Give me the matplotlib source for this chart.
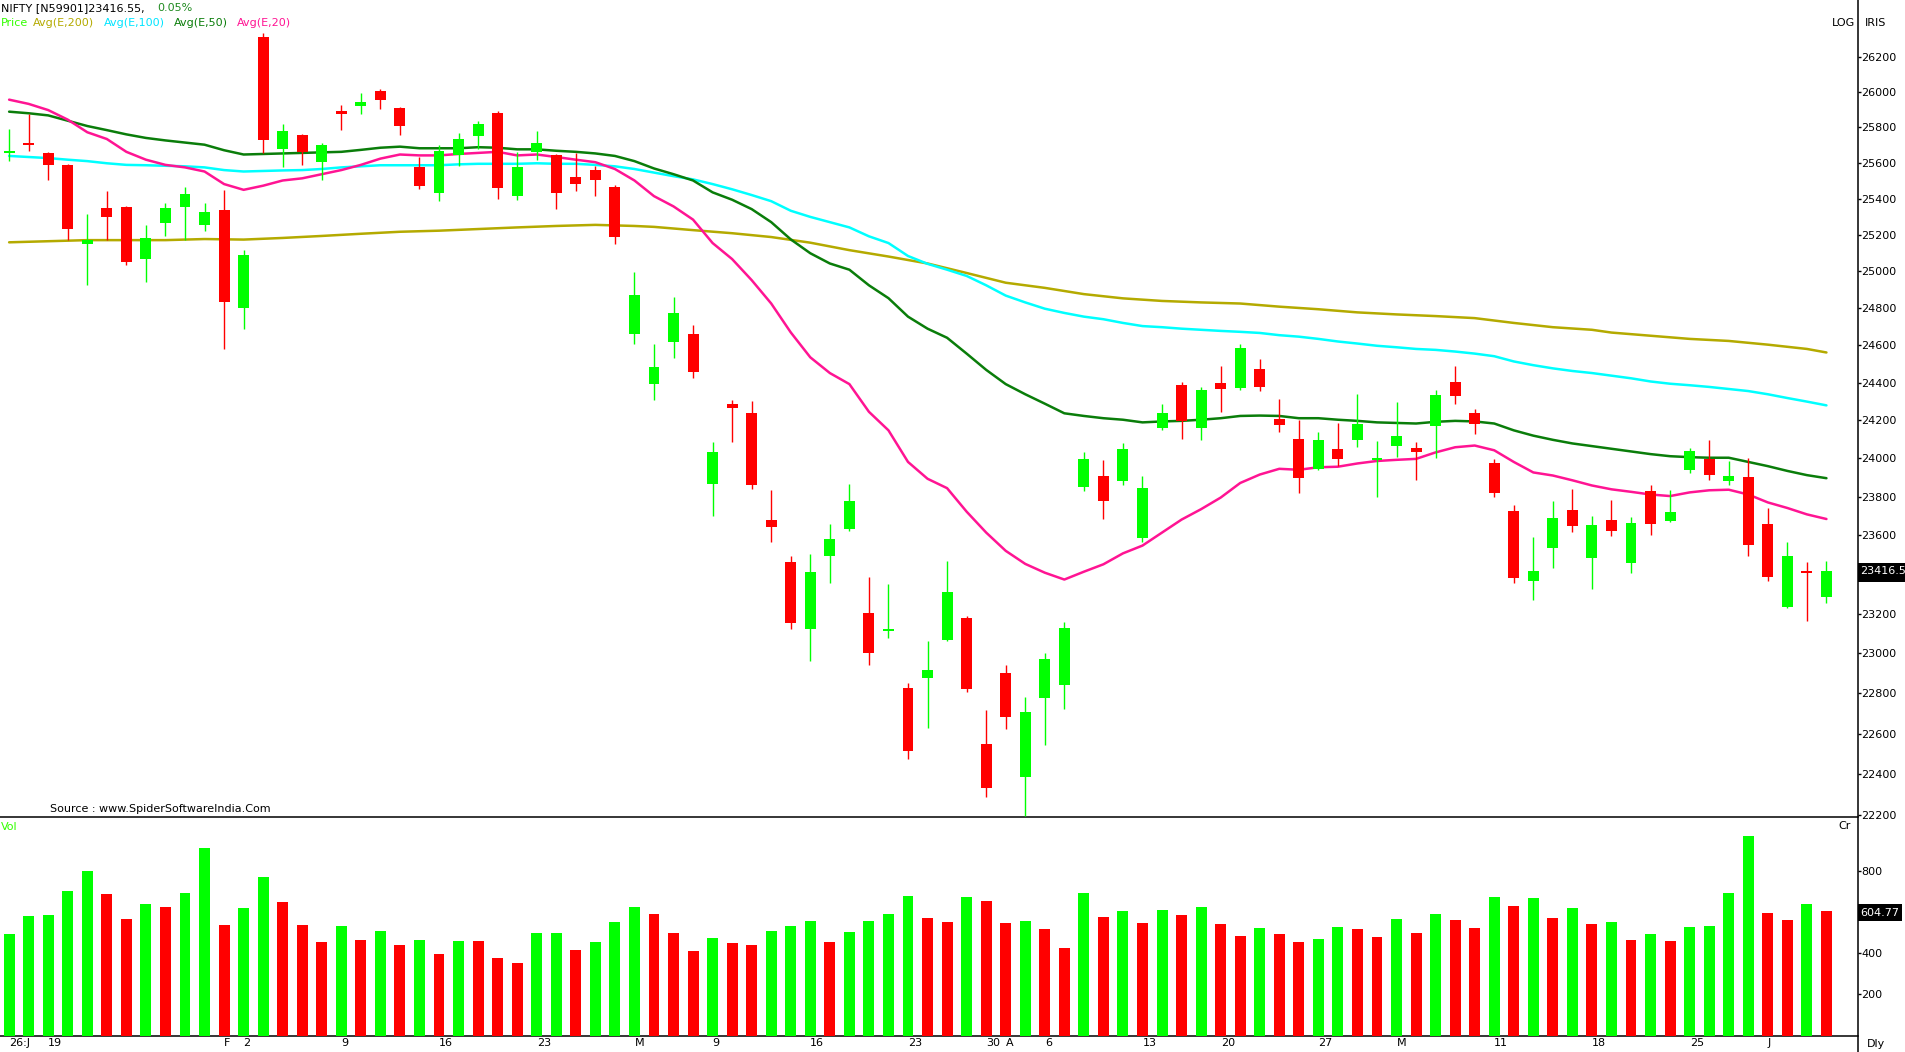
import matplotlib
matplotlib.use("Agg")
import matplotlib.pyplot as plt
from matplotlib.ticker import FixedLocator, NullLocator, FuncFormatter
from matplotlib.patches import Rectangle
from matplotlib.lines import Line2D

# ---------------- data ----------------
opens = [25655, 25702, 25655, 25590, 25150, 25348, 25354, 25070, 25264, 25351,
         25252, 25339, 24803, 26310, 25678, 25757, 25606, 25890, 25919, 26003,
         25910, 25577, 25429, 25646, 25751, 25878, 25412, 25661, 25643, 25522,
         25559, 25464, 24661, 24392, 24617, 24663, 23868, 24285, 24237, 23678,
         23464, 23120, 23493, 23630, 23205, 23112, 22826, 22875, 23064, 23178,
         22549, 22901, 22387, 22777, 22840, 23852, 23910, 23879, 23587, 24161,
         24389, 24161, 24400, 24372, 24473, 24208, 24102, 23945, 24050, 24097,
         23993, 24064, 24056, 24169, 24403, 24237, 23973, 23727, 23365, 23533,
         23732, 23483, 23678, 23456, 23830, 23673, 23937, 23997, 23879, 23904,
         23659, 23232, 23412, 23285]
highs = [25791, 25872, 25660, 25595, 25313, 25443, 25358, 25255, 25377, 25464,
         25377, 25449, 25116, 26337, 25820, 25760, 25710, 25925, 25991, 26015,
         25912, 25632, 25702, 25765, 25832, 25890, 25661, 25777, 25650, 25652,
         25580, 25475, 24994, 24608, 24859, 24709, 24083, 24307, 24301, 23836,
         23496, 23504, 23659, 23866, 23384, 23352, 22852, 23061, 23469, 23190,
         22717, 22940, 22782, 23000, 23157, 24031, 23992, 24078, 23910, 24285,
         24403, 24377, 24487, 24608, 24524, 24313, 24203, 24136, 24186, 24341,
         24089, 24296, 24083, 24361, 24490, 24259, 23997, 23757, 23589, 23778,
         23841, 23700, 23784, 23695, 23860, 23836, 24055, 24097, 23986, 24000,
         23741, 23565, 23464, 23469]
lows = [25612, 25667, 25501, 25174, 24924, 25174, 25035, 24944, 25194, 25174,
        25223, 24580, 24689, 25655, 25574, 25588, 25501, 25783, 25875, 25904,
        25757, 25452, 25386, 25580, 25675, 25397, 25391, 25617, 25342, 25441,
        25412, 25151, 24608, 24310, 24532, 24423, 23700, 24086, 23838, 23565,
        23120, 22960, 23355, 23622, 22939, 23075, 22473, 22626, 23060, 22806,
        22291, 22621, 22195, 22544, 22722, 23830, 23684, 23858, 23565, 24147,
        24102, 24097, 24245, 24361, 24355, 24139, 23817, 23940, 23959, 24061,
        23797, 24008, 23885, 24000, 24285, 24130, 23800, 23355, 23267, 23432,
        23619, 23325, 23595, 23405, 23600, 23670, 23923, 23888, 23860, 23493,
        23365, 23230, 23160, 23253]
closes = [25667, 25698, 25588, 25235, 25172, 25296, 25052, 25183, 25348, 25426,
          25328, 24831, 25090, 25728, 25777, 25661, 25699, 25875, 25940, 25955,
          25806, 25472, 25667, 25731, 25820, 25458, 25577, 25713, 25429, 25484,
          25501, 25186, 24870, 24485, 24771, 24454, 24031, 24265, 23863, 23641,
          23152, 23413, 23581, 23778, 23003, 23118, 22516, 22915, 23312, 22819,
          22334, 22681, 22709, 22971, 23128, 23997, 23776, 24050, 23847, 24237,
          24197, 24361, 24366, 24583, 24377, 24175, 23896, 24094, 23995, 24178,
          23997, 24119, 24033, 24335, 24327, 24178, 23817, 23381, 23419, 23689,
          23646, 23654, 23622, 23665, 23657, 23722, 24036, 23912, 23907, 23551,
          23387, 23491, 23405, 23416.55]
volumes = [494, 581, 586, 703, 800, 688, 567, 640, 625, 693,
           912, 538, 620, 771, 649, 538, 455, 533, 465, 508,
           440, 465, 397, 460, 458, 377, 353, 499, 500, 416,
           455, 552, 625, 591, 499, 411, 474, 450, 440, 508,
           533, 557, 455, 504, 557, 591, 679, 572, 552, 674,
           654, 547, 557, 518, 426, 693, 577, 606, 547, 611,
           586, 625, 543, 484, 523, 494, 455, 470, 528, 518,
           479, 567, 499, 591, 562, 523, 674, 630, 669, 572,
           620, 543, 552, 465, 494, 460, 528, 533, 693, 970,
           596, 562, 640, 604.77]
ema20 = [25955, 25931, 25896, 25842, 25771, 25733, 25661, 25617, 25588, 25574,
         25551, 25481, 25449, 25472, 25501, 25513, 25536, 25559, 25588, 25623,
         25646, 25641, 25641, 25649, 25655, 25661, 25641, 25646, 25632, 25617,
         25603, 25565, 25501, 25414, 25357, 25284, 25155, 25067, 24952, 24825,
         24669, 24535, 24451, 24392, 24245, 24147, 23981, 23893, 23844, 23722,
         23614, 23520, 23453, 23408, 23373, 23413, 23451, 23507, 23547, 23614,
         23681, 23735, 23795, 23871, 23915, 23945, 23940, 23953, 23956, 23973,
         23986, 23992, 23997, 24031, 24058, 24067, 24042, 23981, 23926, 23910,
         23885, 23858, 23838, 23825, 23811, 23803, 23822, 23833, 23836, 23811,
         23770, 23741, 23708, 23684]
ema50 = [25887, 25878, 25866, 25836, 25806, 25783, 25759, 25739, 25725, 25713,
         25701, 25670, 25646, 25649, 25652, 25655, 25658, 25661, 25672, 25684,
         25690, 25681, 25681, 25681, 25687, 25684, 25675, 25675, 25667, 25661,
         25652, 25638, 25609, 25568, 25536, 25501, 25435, 25394, 25342, 25270,
         25175, 25099, 25043, 25009, 24924, 24854, 24754, 24689, 24640, 24555,
         24468, 24392, 24338, 24288, 24237, 24223, 24211, 24203, 24189, 24194,
         24197, 24203, 24211, 24223, 24225, 24223, 24211, 24211, 24203, 24197,
         24189, 24186, 24183, 24192, 24197, 24194, 24183, 24147, 24119, 24097,
         24078, 24064, 24050, 24036, 24022, 24011, 24006, 24003, 24003, 23981,
         23959, 23934, 23912, 23896]
ema100 = [25638, 25632, 25626, 25617, 25609, 25597, 25588, 25586, 25583, 25580,
          25574, 25559, 25551, 25554, 25557, 25559, 25565, 25574, 25580, 25586,
          25586, 25586, 25586, 25591, 25594, 25594, 25594, 25597, 25594, 25594,
          25588, 25580, 25565, 25545, 25525, 25507, 25481, 25452, 25420, 25386,
          25333, 25299, 25270, 25241, 25192, 25155, 25084, 25041, 25009, 24975,
          24924, 24868, 24831, 24797, 24774, 24754, 24740, 24720, 24703, 24697,
          24689, 24683, 24677, 24672, 24666, 24654, 24646, 24634, 24620, 24609,
          24597, 24589, 24580, 24575, 24566, 24555, 24541, 24513, 24493, 24476,
          24462, 24451, 24437, 24423, 24406, 24394, 24386, 24377, 24366, 24355,
          24338, 24318, 24299, 24279]
ema200_idx = [0, 2, 4, 6, 8, 10, 12, 14, 16, 18, 20, 22, 24, 26, 28, 30, 32,
              33, 35, 37, 39, 41, 43, 45, 47, 49, 51, 53, 55, 57, 59, 61, 63, 65,
              67, 69, 71, 73, 75, 77, 79, 81, 82, 84, 86, 88, 90, 92, 93]
ema200 = [25159, 25165, 25171, 25171, 25171, 25177, 25174, 25183, 25194, 25206,
          25217, 25223, 25232, 25241, 25249, 25255, 25249,
          25244, 25226, 25209, 25188, 25157, 25116, 25081, 25043, 24991, 24938,
          24910, 24876, 24853, 24839, 24831, 24825, 24808, 24794, 24777, 24766,
          24757, 24746, 24720, 24697, 24683,
          24668, 24651, 24634, 24623, 24603, 24580, 24561]
date_pos = [0, 2, 11, 12, 17, 22, 27, 32, 36, 41, 46, 50, 51, 53, 58, 62, 67,
            71, 76, 81, 86, 90]
date_labels = ['26:J', '19', 'F', '2', '9', '16', '23', 'M', '9', '16', '23',
               '30', 'A', '6', '13', '20', '27', 'M', '11', '18', '25', 'J']
price_ticks = list(range(22200, 26201, 200))
vol_ticks = [200, 400, 600, 800]
last_close = 23416.55
change_pct = 0.05
last_vol = 604.77

# ---------------- style ----------------
W, H = 1906, 1052
UP = '#00ff00'
DN = '#ff0000'
FS = 8

fig = plt.figure(figsize=(W / 100, H / 100), dpi=100)
fig.patch.set_facecolor('white')

AX_R = 1857.7
Y_SEP = 817.0
Y_BOT = 1035.5
ax = fig.add_axes([0, 1 - Y_SEP / H, AX_R / W, Y_SEP / H])
axv = fig.add_axes([0, 1 - Y_BOT / H, AX_R / W, (Y_BOT - Y_SEP) / H])

n = len(closes)
xs = list(range(n))
xlim = (-0.4667, 94.60)

# price panel
ax.set_yscale('log')
ax.set_ylim(22192, 26526)
ax.set_xlim(*xlim)

ax.plot(ema200_idx, ema200, color='#b4aa00', lw=1.8, zorder=2, solid_capstyle='round')
ax.plot(xs, ema100, color='#00ffff', lw=1.8, zorder=2, solid_capstyle='round')
ax.plot(xs, ema50, color='#0a7d0a', lw=1.8, zorder=2, solid_capstyle='round')
ax.plot(xs, ema20, color='#ff1493', lw=1.8, zorder=2, solid_capstyle='round')

for i in range(n):
    o, h, l, c = opens[i], highs[i], lows[i], closes[i]
    col = UP if c >= o else DN
    ax.vlines(i, l, h, color=col, lw=1.0, zorder=3)
    lo = min(o, c)
    hgt = max(abs(c - o), c * 0.0004)
    ax.bar(i, hgt, bottom=lo, width=0.56, color=col, linewidth=0, zorder=4)


def hidden_fmt(hide_lo, hide_hi):
    # labels sitting under the current-value box are not visible in the reference
    def f(v, p):
        if hide_lo <= v <= hide_hi:
            return ''
        return f'{int(round(v))}'
    return FuncFormatter(f)


for s in ['top', 'left', 'right']:
    ax.spines[s].set_visible(False)
ax.spines['bottom'].set_linewidth(1.1)
ax.spines['bottom'].set_color('black')
ax.set_xticks([])
ax.yaxis.tick_right()
ax.yaxis.set_major_locator(FixedLocator(price_ticks))
ax.yaxis.set_minor_locator(NullLocator())
ax.yaxis.set_major_formatter(hidden_fmt(23350, 23450))
ax.tick_params(axis='y', which='major', direction='out', length=2.2, width=1.0,
               pad=0.6, labelsize=FS, colors='black')

# volume panel
vcols = [UP] + [UP if volumes[i] >= volumes[i - 1] else DN for i in range(1, n)]
axv.bar(xs, volumes, width=0.56, color=vcols, linewidth=0, zorder=3)
axv.set_xlim(*xlim)
axv.set_ylim(0, 1062)
for s in ['top', 'left', 'right']:
    axv.spines[s].set_visible(False)
axv.spines['bottom'].set_linewidth(1.1)
axv.spines['bottom'].set_color('black')
axv.yaxis.tick_right()
axv.yaxis.set_major_locator(FixedLocator(vol_ticks))
axv.yaxis.set_minor_locator(NullLocator())
axv.yaxis.set_major_formatter(hidden_fmt(550, 650))
axv.tick_params(axis='y', which='major', direction='out', length=2.2, width=1.0,
                pad=0.6, labelsize=FS, colors='black')
axv.set_xticks(date_pos)
axv.set_xticklabels(date_labels)
for lab in axv.get_xticklabels():
    lab.set_ha('left')
axv.tick_params(axis='x', length=0, pad=1.8, labelsize=FS, colors='black')
axv.patch.set_alpha(0)
ax.patch.set_alpha(0)

# right axis line across full height
fig.add_artist(Line2D([AX_R / W, AX_R / W], [0, 1], transform=fig.transFigure,
                      color='black', lw=1.1))


def ftext(xp, yp, s, color='black', **kw):
    fig.text(xp / W, 1 - yp / H, s, color=color, fontsize=FS, ha='left',
             va='center', **kw)


ftext(1, 8, f'NIFTY [N59901]{last_close:.2f},')
ftext(157, 8, f'{change_pct:.2f}%', color='#1f8a1f')
ftext(1, 23.5, 'Price', color='#33ff00')
ftext(33, 23.5, 'Avg(E,200)', color='#b4aa00')
ftext(104, 23.5, 'Avg(E,100)', color='#00e5ff')
ftext(174, 23.5, 'Avg(E,50)', color='#0a7d0a')
ftext(237, 23.5, 'Avg(E,20)', color='#ff1493')
ftext(1832, 23.5, 'LOG')
ftext(1865, 23.5, 'IRIS')
ftext(50, 809, 'Source : www.SpiderSoftwareIndia.Com')
ftext(1, 827, 'Vol', color='#33ff00')
ftext(1838, 826, 'Cr')
ftext(1867, 1044, 'Dly')

# current value boxes
fig.add_artist(Rectangle((1858.5 / W, 1 - 581.5 / H), 48 / W, 19 / H,
                         transform=fig.transFigure, facecolor='black',
                         edgecolor='none', zorder=10))
fig.text(1860 / W, 1 - 571.5 / H, '23416.5', color='white', fontsize=FS,
         ha='left', va='center', zorder=11)
fig.add_artist(Rectangle((1858.5 / W, 1 - 921 / H), 44 / W, 17.5 / H,
                         transform=fig.transFigure, facecolor='black',
                         edgecolor='none', zorder=10))
fig.text(1860 / W, 1 - 912.5 / H, f'{last_vol:.2f}', color='white', fontsize=FS,
         ha='left', va='center', zorder=11)

fig.savefig('out.png', dpi=100, facecolor='white')
